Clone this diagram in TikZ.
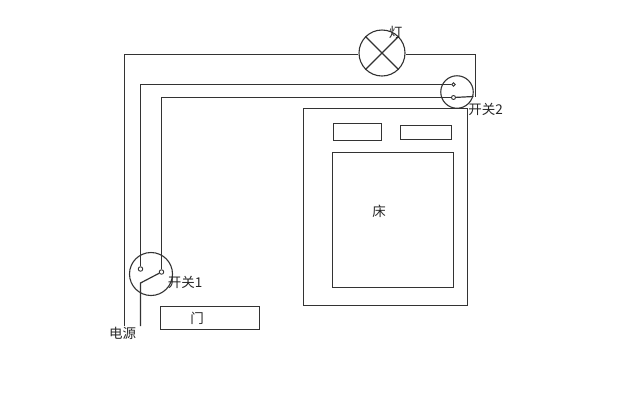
\documentclass[tikz,border=0pt]{standalone}
\usepackage{fontspec}
\setmainfont{Liberation Sans}
\newfontfamily\cjk{Noto Sans CJK SC}
\begin{document}
\begin{tikzpicture}[x=1pt,y=-1pt,
  wire/.style={draw=black!80,line width=1.2pt},
  thin wire/.style={draw=black!80,line width=1.2pt},
  round part/.style={circle,draw=black!80,line width=1.1pt,inner sep=0pt,minimum size=#1},
  contact/.style={circle,draw=black!80,line width=0.9pt,inner sep=0pt,minimum size=4.5pt},
  box/.style={rectangle,draw=black!80,line width=1.2pt,inner sep=0pt,anchor=north west,minimum width=#1},
  label/.style={font=\cjk\fontsize{13.5}{13.5}\selectfont,inner sep=0pt,text=black!85}]
\useasboundingbox (0,0) rectangle (620,408);
\fill[white] (0,0) rectangle (620,408);
% lamp
\node[round part=46pt] (lamp) at (382,53) {};
\draw[thin wire] (lamp.north west) -- (lamp.south east);
\draw[thin wire] (lamp.north east) -- (lamp.south west);
% switches
\node[round part=32.5pt] (sw2) at (457,92) {};
\node[contact,minimum size=3.5pt] (c2a) at (453.5,84.5) {};
\node[contact,minimum size=4pt] (c2b) at (453.5,97.5) {};
\node[round part=43pt] (sw1) at (151,274) {};
\node[contact] (c1a) at (140.5,269) {};
\node[contact] (c1b) at (161.5,272) {};
% coordinates
\coordinate (pw1) at (124.5,326);
\coordinate (pw2) at (140.5,326);
\coordinate (b1) at (140.5,283);
\coordinate (b2) at (473.5,96.5);
\coordinate (tl) at (124.5,54.5);
\coordinate (tr) at (475.5,54.5);
\coordinate (ml) at (140.5,84.5);
\coordinate (il) at (161.5,97.5);
% wires
\draw[wire] (pw1) -- (tl) -- (lamp.west |- tl);
\draw[wire] (lamp.east |- tr) -- (tr) -- (tr |- b2);
\draw[wire] (c1a) -- (ml) -- (c2a);
\draw[wire] (c1b) -- (il) -- (c2b);
\draw[thin wire] (c2b) -- (b2);
\draw[thin wire] (c1b) -- (b1) -- (pw2);
% room
\node[box=164pt,minimum height=197pt] (room) at (303,107.5) {};
\node[box=48pt,minimum height=17pt] (p1) at (333,123) {};
\node[box=51pt,minimum height=14pt] (p2) at (400,125) {};
\node[box=121pt,minimum height=135pt] (bed) at (332,152) {};
\node[box=99pt,minimum height=23pt] (door) at (160,306) {};
% labels
\node[label] at (395.5,32) {灯};
\node[label] at (485.5,109) {开关2};
\node[label] at (185,282) {开关1};
\node[label] at (122.5,333) {电源};
\node[label] at (197,318) {门};
\node[label] at (379,211) {床};
\end{tikzpicture}
\end{document}
